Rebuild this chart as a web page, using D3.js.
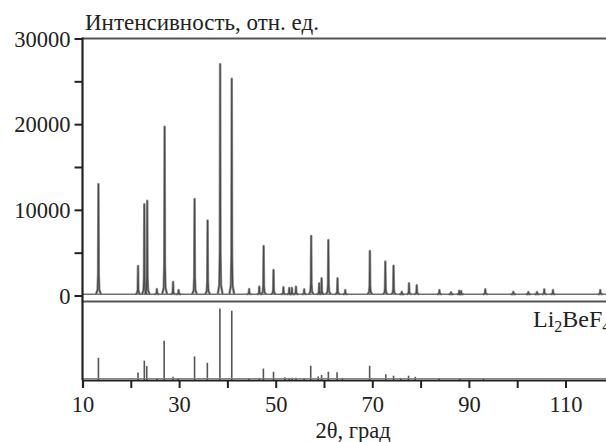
<!DOCTYPE html>
<html>
<head>
<meta charset="utf-8">
<script src="https://cdn.jsdelivr.net/npm/d3@7"></script>
<style>
  html, body { margin: 0; padding: 0; background: #fff; }
  svg { display: block; }
  svg text { font-family: "Liberation Serif", "Tinos", "DejaVu Serif", "Noto Serif", serif; fill: #222; }
</style>
</head>
<body>
<svg id="chart" width="606" height="442"></svg>
<script>
// Measured powder pattern: peak positions (2θ, deg) and peak intensities (counts)
const peakPos = [13.3, 21.5, 22.8, 23.4, 25.4, 27.0, 28.75, 29.9, 33.2, 35.9, 38.5, 40.9,
  44.5, 46.6, 47.5, 49.55, 51.6, 52.8, 53.35, 54.2, 55.9, 57.35, 59.0, 59.5, 60.9, 62.8,
  64.4, 69.5, 72.7, 74.4, 76.1, 77.6, 79.2, 83.9, 86.3, 88.0, 88.4, 93.4, 99.2, 102.3,
  104.1, 105.6, 107.4, 117.2];
const peakInt = [13000, 3450, 10650, 11050, 760, 19700, 1580, 640, 11250, 8750, 27000, 25300,
  760, 1030, 5780, 2980, 950, 880, 880, 1030, 720, 6950, 1420, 2000, 6480, 2000,
  640, 5190, 3950, 3480, 440, 1420, 1200, 640, 370, 560, 520, 720, 440, 400,
  400, 720, 640, 640];
const background = 150;

// Reference lines of Li2BeF4: positions (2θ, deg) and relative intensities (%)
const refPos = [13.3, 21.5, 22.8, 23.3, 25.4, 26.9, 28.75, 29.8, 33.2, 35.85, 38.45, 40.9,
  44.5, 46.6, 47.45, 49.55, 51.9, 52.8, 53.4, 54.2, 55.9, 57.25, 58.8, 59.5, 60.9, 62.7,
  63.8, 69.45, 72.8, 74.4, 75.9, 77.5, 78.9, 83.8, 88.1, 93.0];
const refInt = [31, 10.5, 27, 19.5, 1.5, 55, 4.5, 2, 33, 24, 100, 97,
  1.5, 3, 16, 11.5, 4, 3, 3, 3, 2, 20, 5, 7, 11.5, 11,
  3, 20, 8, 6, 3, 6, 4.5, 2.5, 1.5, 2];

// Axis ticks and labels
const xTicks = d3.range(10, 121, 10);
const xTickLabels = [10, 30, 50, 70, 90, 110];
const yTicks = d3.range(0, 30001, 5000);
const yTickLabels = [0, 10000, 20000, 30000];
const yTitle = "Интенсивность, отн. ед.";
const xTitle = "2θ, град";

const serif = '"Liberation Serif", "Tinos", "DejaVu Serif", "Noto Serif", serif';
const svg = d3.select("#chart");

const x = d3.scaleLinear().domain([10, 120]).range([82.5, 613.8]);
const y = d3.scaleLinear().domain([0, 30000]).range([295.5, 38.5]);
const yRef = d3.scaleLinear().domain([0, 100]).range([380, 308.5]);

const axisLeft = 82.5, axisBottom = 380, right = 606;

// Peak shape template: offsets in degrees, fraction of height above background
const shape = [[-0.5, 0], [-0.18, 0.04], [-0.07, 0.18], [0, 1], [0.07, 0.18], [0.18, 0.04], [0.5, 0]];

const line = d3.line().x(d => x(d[0])).y(d => y(d[1]));

// background of the measured pattern
svg.append("path")
  .attr("d", line([[10, background], [120, background]]))
  .attr("fill", "none").attr("stroke", "#707070").attr("stroke-width", 1.6);

const peaks = peakPos.map((p, i) => ({ pos: p, int: peakInt[i] }));
// soft halo under each peak, then a darker core
svg.append("g").selectAll("path").data(peaks).join("path")
  .attr("d", d => line(shape.map(s => [d.pos + s[0], background + (d.int - background) * s[1]])))
  .attr("fill", "none")
  .attr("stroke", "#9a9a9a")
  .attr("stroke-width", 2.6)
  .attr("stroke-linejoin", "round");
svg.append("g").selectAll("path").data(peaks).join("path")
  .attr("d", d => line(shape.map(s => [d.pos + s[0], background + (d.int - background) * s[1]])))
  .attr("fill", "none")
  .attr("stroke", "#4a4a4a")
  .attr("stroke-width", 1.2)
  .attr("stroke-linejoin", "round");

// top frame line and panel separator
svg.append("line").attr("x1", axisLeft).attr("x2", right).attr("y1", 38.5).attr("y2", 38.5)
  .attr("stroke", "#555").attr("stroke-width", 2.2);
svg.append("line").attr("x1", axisLeft).attr("x2", right).attr("y1", 301.5).attr("y2", 301.5)
  .attr("stroke", "#555").attr("stroke-width", 2);

// reference sticks
const refs = refPos.map((p, i) => ({ pos: p, int: refInt[i] }));
svg.append("g").selectAll("line").data(refs).join("line")
  .attr("x1", d => x(d.pos)).attr("x2", d => x(d.pos))
  .attr("y1", yRef(0)).attr("y2", d => yRef(d.int))
  .attr("stroke", "#555").attr("stroke-width", 1.6);
svg.append("line").attr("x1", axisLeft).attr("x2", right).attr("y1", axisBottom - 1.5).attr("y2", axisBottom - 1.5)
  .attr("stroke", "#888").attr("stroke-width", 1.2);

// x axis
const gx = svg.append("g").attr("transform", `translate(0,${axisBottom})`)
  .call(d3.axisBottom(x).tickValues(xTicks).tickSize(8)
    .tickFormat(d => xTickLabels.includes(d) ? d : ""));
gx.attr("font-family", serif);
gx.select(".domain").attr("stroke", "#222").attr("stroke-width", 2.2);
gx.selectAll(".tick line").attr("stroke", "#222").attr("stroke-width", 2);
gx.selectAll(".tick text").attr("font-size", 22.5).attr("dy", 0).attr("y", 32)
  .style("font-family", serif).attr("fill", "#222");

// y axis (upper panel)
const gy = svg.append("g").attr("transform", `translate(${axisLeft},0)`)
  .call(d3.axisLeft(y).tickValues(yTicks).tickSize(8)
    .tickFormat(d => yTickLabels.includes(d) ? d : ""));
gy.attr("font-family", serif);
gy.select(".domain").remove();
gy.selectAll(".tick line").attr("stroke", "#222").attr("stroke-width", 2);
gy.selectAll(".tick text").attr("font-size", 22.5).attr("x", -12).attr("dy", "0.34em")
  .style("font-family", serif).attr("fill", "#222");
svg.append("line").attr("x1", axisLeft).attr("x2", axisLeft).attr("y1", 37.5).attr("y2", axisBottom)
  .attr("stroke", "#222").attr("stroke-width", 2.2);

// titles
svg.append("text").attr("x", 85).attr("y", 30).attr("font-size", 23)
  .style("font-family", serif).text(yTitle);
svg.append("text").attr("x", 353).attr("y", 438).attr("font-size", 22.5)
  .style("font-family", serif).attr("text-anchor", "middle").text(xTitle);

const phase = svg.append("text").attr("x", 533).attr("y", 327).attr("font-size", 24)
  .style("font-family", serif);
phase.append("tspan").text("Li");
phase.append("tspan").attr("font-size", 16).attr("dy", 5).text("2");
phase.append("tspan").attr("dy", -5).text("BeF");
phase.append("tspan").attr("font-size", 16).attr("dy", 5).text("4");
</script>
</body>
</html>
